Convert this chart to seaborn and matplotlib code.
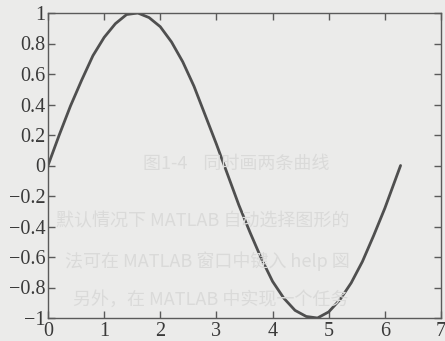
import numpy as np
import pandas as pd
import seaborn as sns
import matplotlib.pyplot as plt

# ======================================================
# Data
# ======================================================

x_vals = [0.0, 0.2, 0.4, 0.6, 0.8, 1.0, 1.2, 1.4, 1.6, 1.8, 2.0, 2.2, 2.4,
          2.6, 2.8, 3.0, 3.2, 3.4, 3.6, 3.8, 4.0, 4.2, 4.4, 4.6, 4.8, 5.0,
          5.2, 5.4, 5.6, 5.8, 6.0, 6.2, 6.28]
y_vals = [0.0, 0.2, 0.39, 0.56, 0.72, 0.84, 0.93, 0.99, 1.0, 0.97, 0.91,
          0.81, 0.68, 0.52, 0.33, 0.14, -0.06, -0.26, -0.44, -0.61, -0.76,
          -0.87, -0.95, -0.99, -1.0, -0.96, -0.88, -0.77, -0.63, -0.46,
          -0.28, -0.08, 0.0]

x_ticks = [0, 1, 2, 3, 4, 5, 6, 7]
y_ticks = [-1, -0.8, -0.6, -0.4, -0.2, 0, 0.2, 0.4, 0.6, 0.8, 1]
y_tick_labels = ["\u22121", "\u22120.8", "\u22120.6", "\u22120.4", "\u22120.2",
                 "0", "0.2", "0.4", "0.6", "0.8", "1"]

# faint show-through text from the page
caption = "图1-4    同时画两条曲线"
body_lines = [
    "默认情况下 MATLAB 自动选择图形的",
    "法可在 MATLAB 窗口中键入 help 図",
    "另外，在 MATLAB 中实现一个任务",
]

df = pd.DataFrame({"x": x_vals, "y": y_vals})

# ======================================================
# Plot
# ======================================================

sns.set_theme(style="ticks")
plt.rcParams["font.family"] = ["Liberation Serif", "Noto Sans CJK SC"]

paper = "#ebebea"
ink = "#5a5a5a"

fig = plt.figure(figsize=(4.45, 3.41), dpi=100, facecolor=paper)

# ghost text behind the chart
fig.text(0.53, 0.52, caption, ha="center", va="center", fontsize=13,
         color="#dadad9", family=["Noto Sans CJK SC"], zorder=0)
for i, line in enumerate(body_lines):
    fig.text(0.125 + 0.02 * i, 0.35 - 0.115 * i, line, ha="left", va="center",
             fontsize=13, color="#dadad9", family=["Noto Sans CJK SC"], zorder=0)

ax = fig.add_axes([48 / 445, 23 / 341, 393 / 445, 305 / 341])
ax.set_facecolor("none")

sns.lineplot(data=df, x="x", y="y", ax=ax, color="#4f4f4f", linewidth=2.0)

ax.set_xlim(0, 7)
ax.set_ylim(-1, 1)
ax.set_xticks(x_ticks)
ax.set_yticks(y_ticks)
ax.set_yticklabels(y_tick_labels)
ax.set_xlabel("")
ax.set_ylabel("")

ax.tick_params(axis="both", direction="in", length=5, width=1, color=ink,
               labelcolor="#3a3a3a", labelsize=14.5, top=True, right=True)
ax.tick_params(axis="y", pad=2)
ax.tick_params(axis="x", pad=3)

for side in ["left", "bottom", "top", "right"]:
    ax.spines[side].set_visible(True)
    ax.spines[side].set_color(ink)
    ax.spines[side].set_linewidth(1.0)

plt.savefig("out.png", dpi=100, facecolor=paper)
